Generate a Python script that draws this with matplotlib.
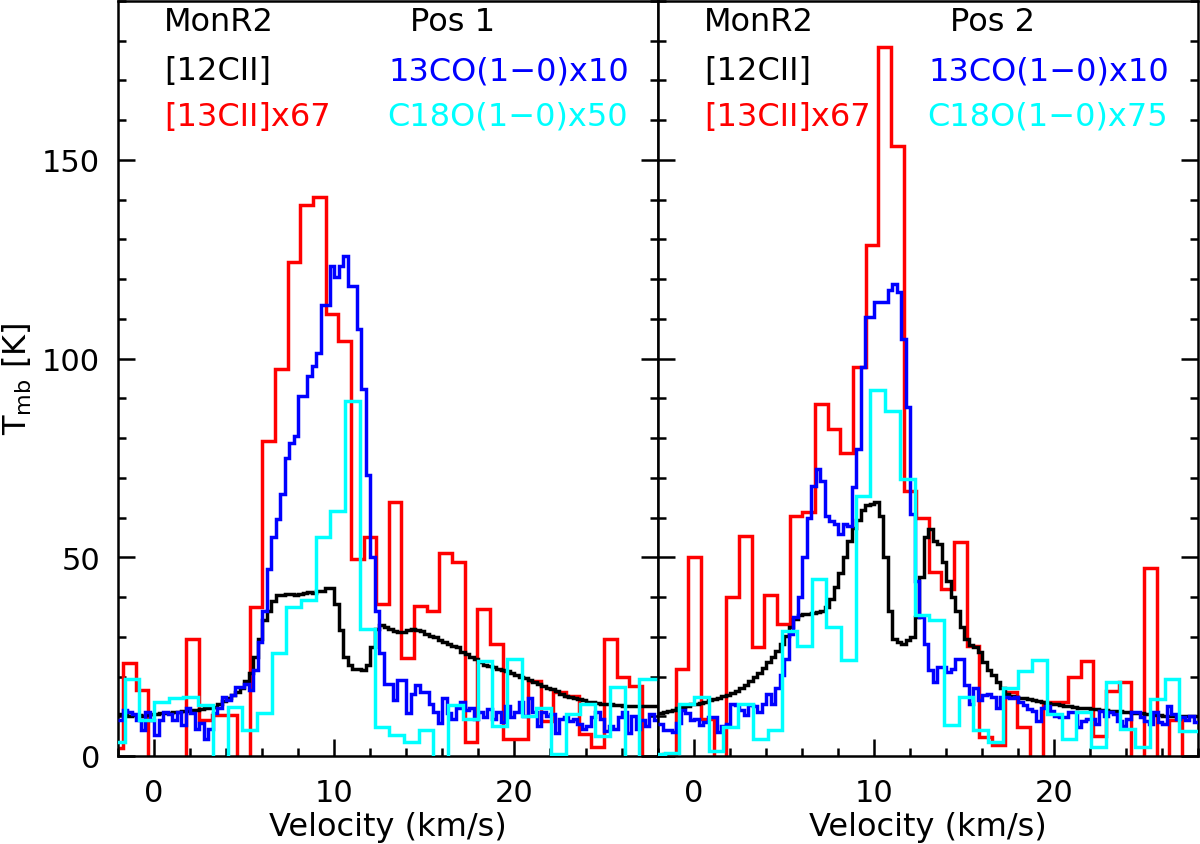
import numpy as np
import matplotlib
matplotlib.use("Agg")
import matplotlib.pyplot as plt
from matplotlib.ticker import MultipleLocator

# ---------------- data ----------------
# channel grids (velocity, km/s): start and width of each spectrum
red_start, red_width = -2.42, 0.703      # [13CII] x67
cyan_start, cyan_width = -2.45, 0.817    # C18O(1-0)
fine_start, fine_width = -2.0, 0.25      # [12CII] and 13CO(1-0)

# Position 1
p1_13cii = [1.9, 23.4, 16.7, -3, -5, -2, 29.5, 9.0, 10.3, 10.3,
            -3, 37.6, 79.3, 97.5, 124.2, 138.7, 140.6, 111.2, 104.5, 49.6,
            55.0, 38.3, 63.8, 24.7, 37.7, 36.6, 51.1, 48.7, 3.6, 37.1,
            28.1, 4.3, 4.3, 18.9, 8.9, 16.0, 15.2, 5.5, 2.2, 29.4,
            19.8, 17.7, -3, -3]
p1_c18o = [3.6, 19.5, 9.0, 13.6, 14.5, 14.9, 12.8, -3, 12.4, 6.5,
           10.7, 25.8, 37.5, 39.3, 55.0, 61.7, 89.3, 32.0, 7.4, 5.3,
           3.6, 6.5, -3, 12.8, 9.4, 24.0, 7.6, 24.4, 10.1, 12.2,
           0.5, 10.6, 13.1, 5.1, 17.3, -3, 19.3, 19.3]
p1_13co = [9.0, 11.5, 11.0, 10.5, 9.0, 6.5, 11.1, 9.0, 5.3, 9.0,
           11.1, 10.5, 9.0, 11.1, 7.8, 12.0, 10.7, 6.9, 8.2, 4.4,
           6.9, 10.7, 12.0, 14.9, 14.0, 15.3, 17.4, 17.4, 18.2, 16.6,
           21.6, 28.7, 36.6, 47.0, 55.0, 59.6, 65.9, 75.1, 78.8, 80.5,
           90.6, 90.6, 95.6, 98.2, 101.5, 113.5, 113.5, 123.4, 120.6, 123.4,
           125.9, 118.3, 118.3, 107.4, 92.3, 70.7, 50.0, 36.6, 25.8, 18.2,
           18.2, 14.0, 19.1, 19.1, 10.7, 15.7, 17.8, 16.1, 16.1, 13.2,
           11.1, 8.4, 14.5, 10.7, 9.4, 12.0, 13.6, 11.5, 12.2, 9.3,
           11.0, 9.7, 11.8, 9.3, 11.0, 8.5, 12.6, 9.7, 11.0, 13.5,
           10.1, 14.7, 11.0, 7.6, 11.0, 10.1, 10.6, 5.9, 9.3, 9.7,
           8.9, 9.3, 8.0, 6.8, 7.6, 9.7, 11.0, 9.3, 6.4, 7.6,
           6.8, 9.7, 11.0, 5.9, 10.1, 6.8, 9.0, 7.5, 10.5, 9.0]
p1_12cii = [10.5, 10.3, 10.0, 10.2, 10.3, 10.1, 10.4, 10.5, 10.6, 10.8,
            10.7, 10.9, 11.0, 11.0, 11.2, 11.3, 11.5, 11.6, 11.8, 12.0,
            12.2, 12.4, 13.0, 13.8, 14.5, 15.3, 16.2, 17.0, 18.8, 21.0,
            25.0, 29.5, 34.1, 36.6, 39.1, 40.4, 40.6, 40.8, 40.8, 40.5,
            40.8, 41.0, 41.2, 41.0, 41.6, 41.6, 42.3, 42.3, 38.3, 31.6,
            24.9, 22.8, 22.0, 21.8, 21.6, 22.8, 27.4, 32.0, 32.9, 32.5,
            32.0, 31.4, 31.2, 31.2, 31.8, 32.0, 31.8, 31.4, 30.8, 30.3,
            29.9, 29.1, 28.7, 28.3, 27.8, 27.4, 26.2, 25.7, 25.0, 24.3,
            23.7, 23.0, 22.7, 22.3, 21.9, 21.6, 21.3, 21.0, 20.5, 20.0,
            19.6, 19.2, 18.6, 18.1, 17.6, 17.1, 16.8, 16.3, 15.7, 15.2,
            14.9, 14.6, 14.3, 14.0, 13.7, 13.5, 13.3, 13.2, 13.1, 13.0,
            12.9, 12.8, 12.7, 12.7, 12.6, 12.6, 12.6, 12.6, 12.6, 12.6]

# Position 2
p2_13cii = [-2, 0.5, 22.0, 50.0, 9.4, -3, 40.0, 55.4, 27.4, 40.6,
            33.3, 60.5, 61.3, 88.5, 82.2, 76.3, 97.9, 128.6, 178.5, 153.6,
            66.7, 60.0, 46.2, 42.1, 53.8, 27.8, 4.8, 2.8, 16.1, 7.2,
            -2, 13.5, 13.5, 19.8, 24.0, 5.1, 16.4, 18.5, -2, 47.2,
            -2, 9.0, -2, -2]
p2_c18o = [0.5, 0.7, 13.2, 14.9, 1.3, 7.4, 13.2, 4.4, 6.5, 31.4,
           27.8, 44.6, 32.4, 24.1, 65.5, 92.0, 86.7, 69.6, 35.4, 34.1,
           7.8, 14.9, 6.5, 3.6, 17.0, 21.4, 24.1, 10.6, 4.3, 11.0,
           2.2, 18.5, 6.8, 2.2, 14.3, 19.3, 6.2, 6.2]
p2_13co = [8.0, 6.5, 6.5, 6.0, 8.2, 11.5, 10.7, 9.0, 9.4, 7.8,
           8.5, 9.9, 9.9, 6.1, 7.5, 8.0, 13.2, 12.8, 11.5, 10.3,
           12.8, 12.5, 11.1, 13.0, 15.7, 13.2, 17.0, 20.3, 24.5, 30.8,
           35.0, 40.0, 50.0, 60.0, 68.0, 72.2, 69.2, 60.5, 59.2, 58.4,
           55.9, 58.4, 57.9, 67.6, 77.2, 97.9, 110.5, 110.5, 114.2, 114.2,
           114.2, 117.2, 118.7, 116.8, 105.0, 87.9, 60.9, 44.1, 35.0, 28.3,
           21.6, 18.6, 22.4, 22.4, 21.2, 22.0, 24.5, 24.5, 17.8, 13.2,
           17.0, 14.0, 15.3, 15.7, 14.9, 12.0, 14.9, 14.9, 14.5, 14.9,
           13.5, 12.8, 11.8, 11.4, 8.9, 12.2, 12.6, 11.4, 10.1, 9.7,
           9.7, 11.0, 11.0, 7.2, 8.9, 9.3, 9.3, 8.0, 11.4, 10.1,
           11.0, 10.5, 8.9, 7.6, 9.3, 11.0, 11.0, 9.7, 8.9, 8.0,
           11.0, 8.5, 8.0, 12.6, 10.6, 9.3, 9.7, 9.0, 10.0, 8.5]
p2_12cii = [10.7, 11.0, 11.3, 11.7, 12.0, 12.3, 12.7, 13.0, 13.2, 13.4,
            13.7, 14.0, 14.3, 14.6, 15.0, 15.3, 15.8, 16.3, 17.0, 17.8,
            18.8, 19.8, 21.0, 22.2, 23.6, 25.0, 26.5, 28.2, 30.3, 32.5,
            34.5, 35.5, 35.8, 35.8, 36.0, 36.2, 36.5, 37.5, 39.5, 42.5,
            46.0, 50.0, 54.2, 57.5, 59.5, 62.0, 63.2, 63.4, 63.8, 60.5,
            50.0, 36.6, 29.5, 28.7, 28.3, 29.1, 29.9, 35.0, 45.0, 55.0,
            57.1, 54.2, 53.3, 48.7, 44.1, 40.0, 36.6, 32.4, 29.5, 28.0,
            27.4, 26.2, 23.7, 21.6, 20.3, 18.6, 17.0, 15.7, 15.2, 14.9,
            14.7, 14.5, 14.3, 14.0, 13.8, 13.6, 13.4, 13.2, 13.0, 12.8,
            12.6, 12.5, 12.3, 12.2, 12.1, 12.0, 11.9, 11.8, 11.7, 11.5,
            11.4, 11.3, 11.2, 11.1, 11.0, 10.9, 10.8, 10.7, 10.6, 10.5,
            10.3, 10.2, 10.1, 10.1, 10.1, 10.1, 10.1, 10.0, 10.0, 10.0]

panels = [
    dict(pos="Pos 1", c18o_label="C18O(1\u22120)x50",
         cii12=p1_12cii, cii13=p1_13cii, co13=p1_13co, c18o=p1_c18o),
    dict(pos="Pos 2", c18o_label="C18O(1\u22120)x75",
         cii12=p2_12cii, cii13=p2_13cii, co13=p2_13co, c18o=p2_c18o),
]


def edges(start, width, n):
    return start + width * np.arange(n + 1)


# ---------------- figure ----------------
W, H = 1200, 845
fig = plt.figure(figsize=(W / 100, H / 100), dpi=100)
plt.rcParams['font.family'] = ['DejaVu Sans']

FS = 22
FS_TXT = 23
LW = 2.5
ax_bottom = 1 - 757 / H
ax_height = (757 - 2) / H
lefts = [118 / W, 658 / W]
ax_w = 540 / W

for i, p in enumerate(panels):
    ax = fig.add_axes([lefts[i], ax_bottom, ax_w, ax_height])
    ax.stairs(p["cii13"], edges(red_start, red_width, len(p["cii13"])),
              color="#ff0000", lw=LW, baseline=None, zorder=2)
    ax.stairs(p["cii12"], edges(fine_start, fine_width, len(p["cii12"])),
              color="black", lw=LW, baseline=None, zorder=3)
    ax.stairs(p["co13"], edges(fine_start, fine_width, len(p["co13"])),
              color="#0000ff", lw=LW, baseline=None, zorder=4)
    ax.stairs(p["c18o"], edges(cyan_start, cyan_width, len(p["c18o"])),
              color="#00ffff", lw=LW, baseline=None, zorder=5)

    ax.set_xlim(-2, 28)
    ax.set_ylim(0, 190)
    ax.xaxis.set_major_locator(MultipleLocator(10))
    ax.xaxis.set_minor_locator(MultipleLocator(2))
    ax.yaxis.set_major_locator(MultipleLocator(50))
    ax.yaxis.set_minor_locator(MultipleLocator(10))
    ax.tick_params(which="both", direction="in", top=False, right=True,
                   left=True, bottom=True, width=1.8, labelsize=FS)
    ax.tick_params(which="major", length=12)
    ax.tick_params(which="minor", length=6)
    ax.tick_params(axis="x", pad=16)
    ax.tick_params(axis="y", pad=13)
    if i == 1:
        ax.tick_params(labelleft=False)
    for s in ax.spines.values():
        s.set_linewidth(1.8)

    # annotations
    ax.text(0.55, 182.7, "MonR2", color="black", fontsize=FS_TXT,
            ha="left", va="baseline")
    ax.text(14.2, 182.7, p["pos"], color="black", fontsize=FS_TXT,
            ha="left", va="baseline")
    ax.text(0.55, 170.3, "[12CII]", color="black", fontsize=FS_TXT,
            ha="left", va="baseline")
    ax.text(13.05, 170.3, "13CO(1\u22120)x10", color="#0000ff",
            fontsize=FS_TXT, ha="left", va="baseline")
    ax.text(0.55, 158.9, "[13CII]x67", color="#ff0000", fontsize=FS_TXT,
            ha="left", va="baseline")
    ax.text(12.95, 158.9, p["c18o_label"], color="#00ffff",
            fontsize=FS_TXT, ha="left", va="baseline")

    xc = (lefts[i] + ax_w / 2)
    fig.text(xc, 1 - 828 / H, "Velocity (km/s)", fontsize=23,
             ha="center", va="center")

fig.text(17 / W, 1 - 379 / H, r"T$_{\rm mb}$ [K]", fontsize=23,
         rotation=90, ha="center", va="center")

fig.savefig("out.png", dpi=100)
